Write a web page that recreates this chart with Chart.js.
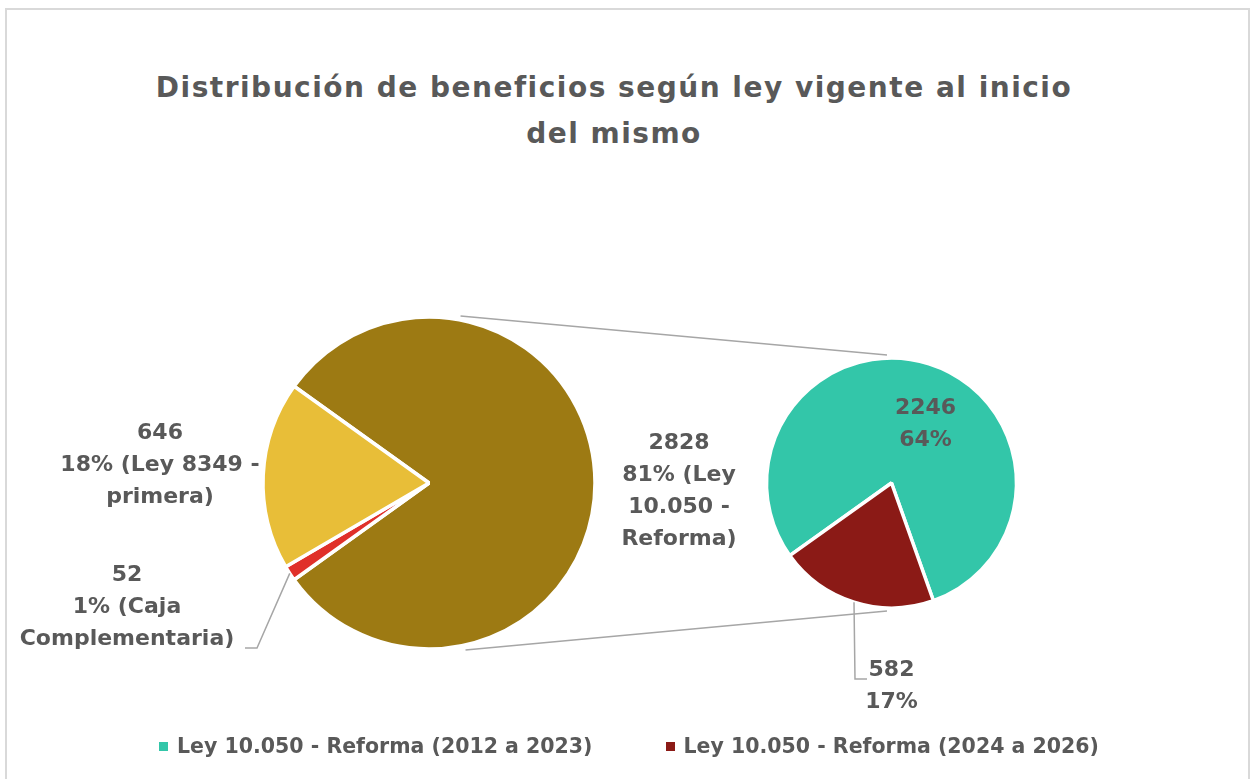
<!DOCTYPE html>
<html lang="es">
<head>
<meta charset="UTF-8">
<title>Distribución de beneficios según ley vigente</title>
<script src="https://cdn.jsdelivr.net/npm/chart.js"></script>
<style>
  body { margin: 0; background: #fff; }
  #wrap { position: relative; width: 1255px; height: 779px; overflow: hidden; font-family: 'DejaVu Sans', sans-serif; color: #595959; }
  .marco { position: absolute; left: 5px; top: 8px; width: 1241px; height: 800px; border: 2px solid #d9d9d9; }
  .titulo { position: absolute; left: 0; top: 65px; width: 1228px; text-align: center; font-weight: bold; font-size: 28px; letter-spacing: 1.5px; line-height: 46px; }
  canvas { position: absolute; left: 0; top: 0; }
  .leyenda { position: absolute; left: 0; top: 732px; width: 1258px; display: flex; justify-content: center; gap: 73px; font-weight: bold; font-size: 20.5px; line-height: 28px; }
  .leyenda .item { display: flex; align-items: center; }
  .leyenda .caja { display: inline-block; width: 9px; height: 9px; margin-right: 9px; }
</style>
</head>
<body>
<div id="wrap">
  <div class="marco"></div>
  <div class="titulo">Distribución de beneficios según ley vigente al inicio<br>del mismo</div>
  <canvas id="pieMain" width="1255" height="779"></canvas>
  <canvas id="pieSub" width="1255" height="779"></canvas>
  <div class="leyenda" id="leyenda"></div>
</div>
<script>
  // datos
  const mainLabels = ['Ley 10.050 - Reforma', 'Caja Complementaria', 'Ley 8349 - primera'];
  const mainValues = [2828, 52, 646];
  const mainPct = [81, 1, 18];
  const mainColors = ['#9D7A13', '#E0302A', '#E8BE38'];

  const subLabels = ['Ley 10.050 - Reforma (2012 a 2023)', 'Ley 10.050 - Reforma (2024 a 2026)'];
  const subValues = [2246, 582];
  const subPct = [64, 17];
  const subColors = ['#33C6A9', '#8B1A16'];

  // layout
  const W = 1255, H = 779;
  const mainPie = { cx: 429, cy: 483, r: 166 };
  const subPie = { cx: 891.5, cy: 483, r: 125 };
  const FONT = 'bold 22px "DejaVu Sans"';
  const GRIS = '#595959';
  const LINEA = '#A6A6A6';

  function padFor(p) {
    return { left: p.cx - p.r, right: W - p.cx - p.r, top: p.cy - p.r, bottom: H - p.cy - p.r };
  }

  function wrap(ctx, text, maxW) {
    const words = text.split(' ');
    const lines = [];
    let cur = '';
    words.forEach(w => {
      const test = cur ? cur + ' ' + w : w;
      if (cur && ctx.measureText(test).width > maxW) {
        lines.push(cur);
        cur = w;
      } else {
        cur = test;
      }
    });
    if (cur) lines.push(cur);
    return lines;
  }

  function drawLines(ctx, lines, x, y) {
    const lh = 32;
    const y0 = y - (lines.length - 1) * lh / 2;
    lines.forEach((t, i) => ctx.fillText(t, x, y0 + i * lh));
  }

  // label placement relative to each pie centre
  const mainLabelPos = [
    { dx: 250, dy: 8, width: 130 },
    { dx: -302, dy: 124, width: 150, leader: [[-172, 165], [-184, 165]] },
    { dx: -269, dy: -18, width: 210 }
  ];
  const subLabelPos = [
    { dx: 34, dy: -59 },
    { dx: 0, dy: 203, leader: [[-36.5, 196], [-24.5, 196]] }
  ];

  function labelPlugin(posList, textFor) {
    return {
      id: 'etiquetas',
      afterDatasetsDraw(chart) {
        const ctx = chart.ctx;
        const arcs = chart.getDatasetMeta(0).data;
        ctx.save();
        ctx.font = FONT;
        ctx.fillStyle = GRIS;
        ctx.textAlign = 'center';
        ctx.textBaseline = 'middle';
        arcs.forEach((arc, i) => {
          const pos = posList[i];
          const cx = arc.x, cy = arc.y;
          if (pos.leader) {
            const mid = (arc.startAngle + arc.endAngle) / 2;
            ctx.beginPath();
            ctx.strokeStyle = LINEA;
            ctx.lineWidth = 1.5;
            ctx.moveTo(cx + Math.cos(mid) * arc.outerRadius, cy + Math.sin(mid) * arc.outerRadius);
            pos.leader.forEach(p => ctx.lineTo(cx + p[0], cy + p[1]));
            ctx.stroke();
          }
          drawLines(ctx, textFor(ctx, i, pos), cx + pos.dx, cy + pos.dy);
        });
        ctx.restore();
      }
    };
  }

  const mainShare = mainValues[0] / mainValues.reduce((a, b) => a + b, 0);

  const mainChart = new Chart(document.getElementById('pieMain'), {
    type: 'pie',
    data: {
      labels: mainLabels,
      datasets: [{
        data: mainValues,
        backgroundColor: mainColors,
        borderColor: '#ffffff',
        borderWidth: 3.5,
        hoverOffset: 0,
        radius: mainPie.r,
        clip: false
      }]
    },
    options: {
      responsive: false,
      animation: false,
      rotation: 90 - mainShare * 180,
      layout: { padding: padFor(mainPie) },
      plugins: { legend: { display: false }, tooltip: { enabled: false } }
    },
    plugins: [labelPlugin(mainLabelPos, (ctx, i, pos) =>
      [String(mainValues[i])].concat(wrap(ctx, mainPct[i] + '% (' + mainLabels[i] + ')', pos.width)))]
  });

  const connectors = {
    id: 'conectores',
    beforeDatasetsDraw(chart) {
      const a = mainChart.getDatasetMeta(0).data[0];
      const b = chart.getDatasetMeta(0).data[0];
      const ctx = chart.ctx;
      ctx.save();
      ctx.strokeStyle = LINEA;
      ctx.lineWidth = 1.5;
      ctx.beginPath();
      ctx.moveTo(a.x + 0.19 * a.outerRadius, a.y - a.outerRadius - 1);
      ctx.lineTo(b.x - 4.5, b.y - b.outerRadius - 3);
      ctx.moveTo(a.x + 0.22 * a.outerRadius, a.y + a.outerRadius + 1);
      ctx.lineTo(b.x - 4.5, b.y + b.outerRadius + 3);
      ctx.stroke();
      ctx.restore();
    }
  };

  new Chart(document.getElementById('pieSub'), {
    type: 'pie',
    data: {
      labels: subLabels,
      datasets: [{
        data: subValues,
        backgroundColor: subColors,
        borderColor: '#ffffff',
        borderWidth: 3.5,
        hoverOffset: 0,
        radius: subPie.r,
        clip: false
      }]
    },
    options: {
      responsive: false,
      animation: false,
      rotation: 234.5,
      layout: { padding: padFor(subPie) },
      plugins: { legend: { display: false }, tooltip: { enabled: false } }
    },
    plugins: [connectors, labelPlugin(subLabelPos, (ctx, i) => [String(subValues[i]), subPct[i] + '%'])]
  });

  // leyenda
  const ley = document.getElementById('leyenda');
  subLabels.forEach((t, i) => {
    const it = document.createElement('div');
    it.className = 'item';
    it.innerHTML = '<span class="caja" style="background:' + subColors[i] + '"></span>' + t;
    ley.appendChild(it);
  });
</script>
</body>
</html>
